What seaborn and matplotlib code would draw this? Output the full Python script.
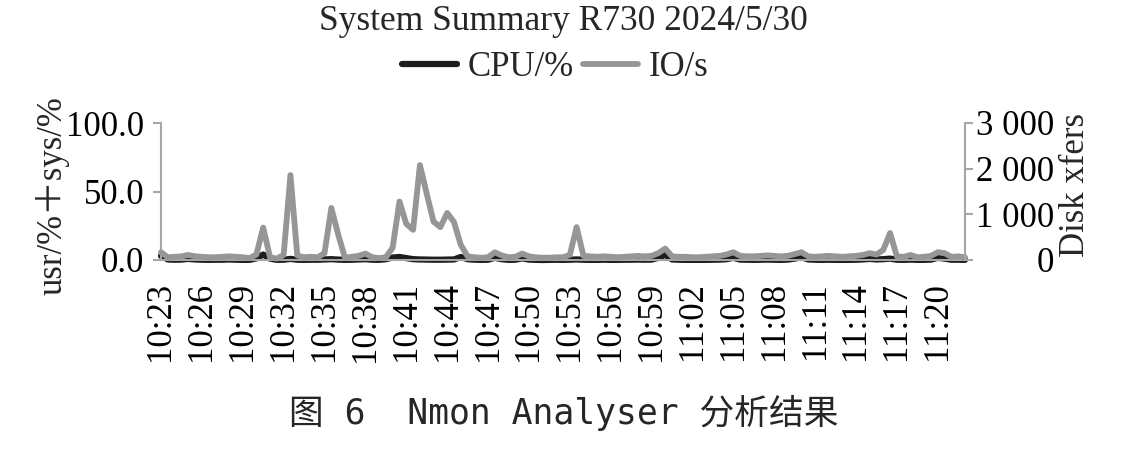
import matplotlib
matplotlib.use("Agg")
import matplotlib.pyplot as plt
from matplotlib.lines import Line2D
import numpy as np
import pandas as pd
import seaborn as sns

# ---------------- data ----------------
# samples every 30 s from 10:23:00 to 11:22:00
io_per_s = [170, 60, 70, 80, 110, 80, 70, 60, 60, 70,
            80, 70, 60, 40, 120, 710, 60, 30, 110, 1860,
            100, 60, 70, 60, 150, 1140, 560, 50, 70, 90,
            140, 60, 40, 60, 270, 1280, 790, 660, 2080, 1450,
            840, 720, 1030, 830, 330, 80, 60, 50, 60, 170,
            100, 60, 70, 140, 80, 60, 50, 50, 60, 60,
            110, 720, 90, 80, 70, 80, 70, 60, 70, 80,
            90, 80, 90, 150, 250, 80, 70, 70, 60, 60,
            70, 80, 90, 120, 170, 90, 80, 80, 90, 100,
            90, 80, 90, 130, 170, 80, 70, 80, 90, 80,
            70, 80, 90, 110, 150, 120, 220, 590, 80, 70,
            110, 60, 70, 90, 170, 150, 70, 80, 60]
cpu_pct = [3.0, 0.4, 0.2, 0.3, 0.8, 0.4, 0.2, 0.1, 0.2, 0.2,
           0.4, 0.2, 0.1, 0.1, 1.2, 4.0, 1.0, 0.1, 0.2, 0.8,
           0.2, 0.1, 0.2, 0.2, 0.4, 0.6, 0.3, 0.1, 0.2, 0.4,
           0.6, 0.2, 0.1, 0.6, 1.8, 2.2, 1.4, 0.6, 0.4, 0.3,
           0.2, 0.2, 0.3, 0.4, 2.2, 0.6, 0.2, 0.1, 0.2, 1.6,
           0.6, 0.1, 0.2, 1.2, 0.3, 0.1, 0.0, 0.1, 0.2, 0.1,
           0.2, 0.4, 0.2, 0.1, 0.1, 0.2, 0.1, 0.1, 0.2, 0.2,
           0.3, 0.2, 0.3, 1.6, 3.8, 0.4, 0.2, 0.1, 0.1, 0.1,
           0.1, 0.2, 0.3, 0.6, 1.6, 0.3, 0.2, 0.1, 0.2, 0.3,
           0.2, 0.1, 0.3, 1.0, 2.0, 0.4, 0.2, 0.1, 0.2, 0.1,
           0.1, 0.1, 0.2, 0.4, 0.8, 0.4, 0.6, 1.0, 0.2, 0.1,
           0.3, 0.1, 0.1, 0.3, 1.6, 1.0, 0.2, 0.2, 0.1]
time_labels = ["10:23", "10:26", "10:29", "10:32", "10:35", "10:38", "10:41",
               "10:44", "10:47", "10:50", "10:53", "10:56", "10:59", "11:02",
               "11:05", "11:08", "11:11", "11:14", "11:17", "11:20"]
label_every = 6  # one label every 6 samples (3 minutes)
left_ticks = [0, 50, 100]
left_labels = ["0.0", "50.0", "100.0"]
right_ticks = [0, 1000, 2000, 3000]
right_labels = ["0", "1 000", "2 000", "3 000"]

title = "System Summary R730 2024/5/30"
caption = "图 6  Nmon Analyser 分析结果"

# ---------------- style ----------------
sns.set_style("ticks")
plt.rcParams["font.family"] = ["Liberation Serif", "Noto Sans CJK SC"]
plt.rcParams["axes.unicode_minus"] = False

BLACK = "#1c1c1c"
GRAY = "#969696"
AXC = "#a6a6a6"
FS = 25

W, H = 1128, 462
fig = plt.figure(figsize=(W / 100, H / 100), dpi=100)
L, R, T, B = 161, 965, 123, 260
ax = fig.add_axes([L / W, 1 - B / H, (R - L) / W, (B - T) / H])
ax2 = ax.twinx()

n = len(io_per_s)
df = pd.DataFrame({"idx": np.arange(n), "CPU/%": cpu_pct, "IO/s": io_per_s})

sns.lineplot(data=df, x="idx", y="CPU/%", ax=ax, color=BLACK, lw=4.5,
             legend=False, clip_on=False)
sns.lineplot(data=df, x="idx", y="IO/s", ax=ax2, color=GRAY, lw=4.2,
             legend=False, clip_on=False)

ax.set_xlim(0, n - 1)
ax.set_ylim(0, 100)
ax2.set_ylim(0, 3000)

ax.set_xticks(np.arange(len(time_labels)) * label_every, time_labels,
              rotation=90, fontsize=FS)
ax.set_yticks(left_ticks, left_labels, fontsize=FS)
ax2.set_yticks(right_ticks, right_labels, fontsize=FS, ha="right")
ax.set_xlabel("")
ax.set_ylabel("")
ax2.set_ylabel("")

for s in ["top", "right"]:
    ax.spines[s].set_visible(False)
for s in ["top", "left", "bottom"]:
    ax2.spines[s].set_visible(False)
ax.spines["left"].set_color(AXC)
ax.spines["bottom"].set_color(AXC)
ax2.spines["right"].set_color(AXC)
for sp in [ax.spines["left"], ax.spines["bottom"], ax2.spines["right"]]:
    sp.set_linewidth(1.5)

ax.tick_params(axis="y", direction="out", length=6, width=1.5, color=AXC,
               pad=6, labelcolor="black")
ax.tick_params(axis="x", length=0, pad=16, labelcolor="black")
ax2.tick_params(axis="y", direction="out", length=6, width=1.5, color=AXC,
                pad=58, labelcolor="black")

# axis titles
fig.text(53 / W, 1 - 196 / H, "usr/%＋sys/%", rotation=90, ha="center",
         va="center", fontsize=FS)
fig.text(1076 / W, 1 - 185 / H, "Disk xfers", rotation=90, ha="center",
         va="center", fontsize=FS)

# title
fig.text(563 / W, 1 - 22 / H, title, ha="center", va="center", fontsize=25.5)

# legend
handles = [Line2D([0], [0], color=BLACK, lw=4.5),
           Line2D([0], [0], color=GRAY, lw=4.2)]
fig.legend(handles, ["CPU/%", "IO/s"], loc="center",
           bbox_to_anchor=(555 / W, 1 - 68 / H), ncol=2, frameon=False,
           fontsize=FS, handlelength=1.6, handletextpad=0.3,
           columnspacing=0.25, borderpad=0, borderaxespad=0)

# caption
fig.text(564 / W, 1 - 413 / H, caption, ha="center", va="center",
         fontsize=25, family=["DejaVu Sans Mono", "Noto Sans CJK SC"])

fig.savefig("out.png", dpi=100)
